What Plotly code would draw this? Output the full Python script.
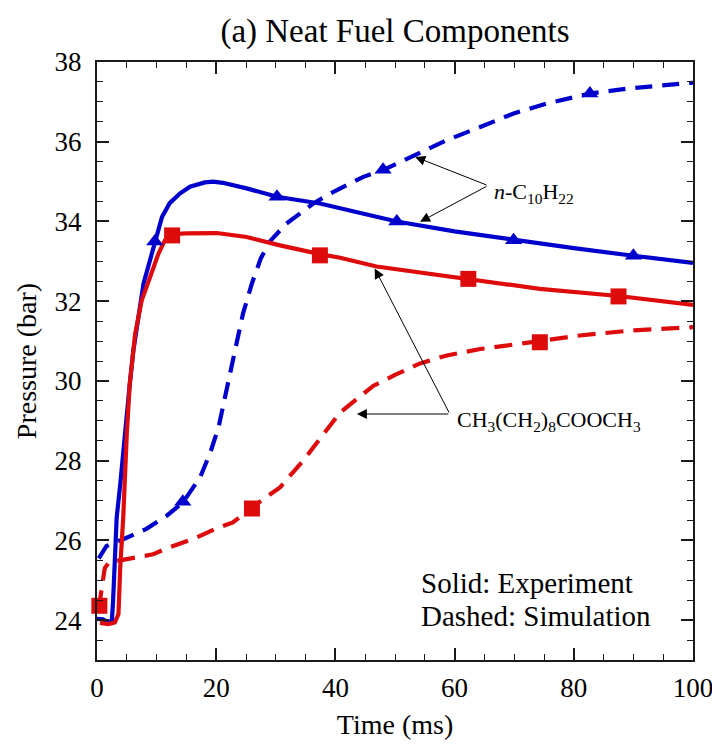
import plotly.graph_objects as go

# ---- Pressure traces, time in ms, pressure in bar ----
# n-decane, experiment
exp_dec_t = [0, 1.0, 1.9, 2.5, 2.7, 3.0, 3.3, 3.9, 4.4, 5.0, 5.5, 6.1, 6.9, 7.8, 8.9, 9.7,
             10.9, 12.2, 13.9, 15.6, 18.1, 19.5, 21.1, 25.1, 30.2, 37.4, 40.8, 50.3, 60.0,
             69.9, 80.0, 90.0, 100.0]
exp_dec_p = [24.03, 24.02, 23.94, 24.0, 24.48, 25.32, 26.57, 27.4, 28.25, 29.1, 29.93, 30.76,
             31.6, 32.44, 33.03, 33.5, 34.11, 34.46, 34.7, 34.87, 34.98, 35.0, 34.97, 34.83,
             34.62, 34.45, 34.33, 34.0, 33.75, 33.53, 33.33, 33.14, 32.96]

# methyl decanoate, experiment
exp_md_t = [0.5, 1.9, 3.0, 3.6, 3.9, 4.4, 5.0, 5.5, 6.4, 7.5, 8.9, 10.3, 11.4, 12.5, 15.0,
            20.1, 25.1, 30.7, 37.4, 40.8, 46.9, 55.0, 62.3, 74.3, 87.5, 100.0]
exp_md_p = [23.93, 23.9, 23.94, 24.15, 25.32, 26.57, 28.67, 29.93, 31.18, 32.02, 32.6, 33.19,
            33.53, 33.68, 33.7, 33.71, 33.61, 33.4, 33.18, 33.09, 32.87, 32.7, 32.56, 32.31,
            32.13, 31.91]

# n-decane, simulation
sim_dec_t = [0.3, 1.6, 4.4, 8.3, 11.7, 14.4, 17.3, 19.0, 20.4, 21.8, 23.15, 24.5, 26.0, 27.5,
             29.0, 31.8, 36.3, 39.1, 44.7, 48.0, 53.1, 58.7, 64.3, 69.9, 75.5, 82.7, 89.4, 100.0]
sim_dec_p = [25.55, 25.86, 26.03, 26.29, 26.62, 26.95, 27.58, 28.2, 28.84, 29.76, 30.76, 31.69,
             32.45, 33.08, 33.5, 33.95, 34.45, 34.7, 35.12, 35.29, 35.66, 36.04, 36.37, 36.71,
             36.96, 37.21, 37.34, 37.48]

# methyl decanoate, simulation
sim_md_t = [0.3, 0.8, 1.3, 2.0, 4.0, 7.0, 9.4, 11.7, 13.9, 16.7, 20.0, 22.8, 26.0, 28.0, 30.7,
            34.6, 38.0, 40.8, 43.2, 46.4, 50.0, 54.2, 58.7, 64.3, 74.3, 81.0, 90.0, 100.0]
sim_md_p = [24.3, 24.9, 25.3, 25.45, 25.5, 25.58, 25.65, 25.8, 25.92, 26.07, 26.3, 26.45, 26.83,
            27.05, 27.33, 28.0, 28.67, 29.21, 29.5, 29.88, 30.15, 30.44, 30.64, 30.8, 31.0,
            31.14, 31.27, 31.35]

# symbol positions along each trace
exp_dec_mk_t = [9.7, 30.2, 50.3, 69.9, 90.0]
exp_dec_mk_p = [33.5, 34.62, 34.0, 33.53, 33.14]
exp_md_mk_t = [12.6, 37.4, 62.3, 87.5]
exp_md_mk_p = [33.65, 33.15, 32.56, 32.12]
sim_dec_mk_t = [14.4, 48.0, 82.7]
sim_dec_mk_p = [26.97, 35.3, 37.21]
sim_md_mk_t = [0.4, 26.0, 74.3]
sim_md_mk_p = [24.36, 26.8, 30.97]

x_ticks = [0, 20, 40, 60, 80, 100]
y_ticks = [24, 26, 28, 30, 32, 34, 36, 38]

BLUE = "#0000cc"
RED = "#dd0b0b"
FONT = "Liberation Serif, Times New Roman, serif"
LW = 4.2

fig = go.Figure()

fig.add_trace(go.Scatter(x=sim_dec_t, y=sim_dec_p, mode="lines",
                         line=dict(color=BLUE, width=LW, dash="17px,10px")))
fig.add_trace(go.Scatter(x=sim_md_t, y=sim_md_p, mode="lines",
                         line=dict(color=RED, width=LW, dash="18px,10px")))
fig.add_trace(go.Scatter(x=exp_dec_t, y=exp_dec_p, mode="lines",
                         line=dict(color=BLUE, width=LW)))
fig.add_trace(go.Scatter(x=exp_md_t, y=exp_md_p, mode="lines",
                         line=dict(color=RED, width=LW)))

for t, p, col, sym, sz in [
    (exp_dec_mk_t, exp_dec_mk_p, BLUE, "triangle-up", 15),
    (sim_dec_mk_t, sim_dec_mk_p, BLUE, "triangle-up", 15),
    (exp_md_mk_t, exp_md_mk_p, RED, "square", 16),
    (sim_md_mk_t, sim_md_mk_p, RED, "square", 16),
]:
    fig.add_trace(go.Scatter(x=t, y=p, mode="markers", cliponaxis=False,
                             marker=dict(color=col, symbol=sym, size=sz, line=dict(width=0))))

# labels with pointer arrows
def pointer(x_tip, y_tip, x_tail, y_tail):
    fig.add_annotation(x=x_tip, y=y_tip, ax=x_tail, ay=y_tail, axref="x", ayref="y",
                       text="", showarrow=True, arrowhead=2, arrowsize=2.0,
                       arrowwidth=1, arrowcolor="black", standoff=0, startstandoff=0)

pointer(53.4, 35.62, 65.6, 34.9)
pointer(54.2, 33.99, 65.6, 34.9)
pointer(46.6, 32.82, 59.2, 29.17)
pointer(43.6, 29.17, 59.2, 29.17)

fig.add_annotation(x=66.3, y=34.71, xanchor="left", yanchor="middle", showarrow=False,
                   text="<i>n</i>-C<sub>10</sub>H<sub>22</sub>",
                   font=dict(family=FONT, size=22, color="black"))
fig.add_annotation(x=60.0, y=29.0, xanchor="left", yanchor="middle", showarrow=False,
                   text="CH<sub>3</sub>(CH<sub>2</sub>)<sub>8</sub>COOCH<sub>3</sub>",
                   font=dict(family=FONT, size=22, color="black"))
fig.add_annotation(x=0.54, y=24.93, xref="paper", xanchor="left", yanchor="middle",
                   showarrow=False, text="Solid: Experiment",
                   font=dict(family=FONT, size=29, color="black"))
fig.add_annotation(x=0.54, y=24.1, xref="paper", xanchor="left", yanchor="middle",
                   showarrow=False, text="Dashed: Simulation",
                   font=dict(family=FONT, size=29, color="black"))

axis_common = dict(
    showline=True, linewidth=2, linecolor="#1a1a1a", mirror="allticks",
    ticks="inside", ticklen=12, tickwidth=1.5, tickcolor="#1a1a1a",
    showgrid=False, zeroline=False, ticklabeloverflow="allow", automargin=False,
    tickfont=dict(family=FONT, size=27, color="black"),
)

fig.update_xaxes(range=[0, 100], tickvals=x_ticks, ticklabelstandoff=3,
                 minor=dict(dtick=5, ticks="inside", ticklen=6, tickwidth=1.2,
                            tickcolor="#1a1a1a", showgrid=False),
                 title=dict(text="Time (ms)", font=dict(family=FONT, size=28, color="black"),
                            standoff=12),
                 **axis_common)
fig.update_yaxes(range=[23, 38], tickvals=y_ticks, ticklabelstandoff=8,
                 minor=dict(dtick=0.5, ticks="inside", ticklen=6, tickwidth=1.2,
                            tickcolor="#1a1a1a", showgrid=False),
                 title=dict(text="Pressure (bar)", font=dict(family=FONT, size=28, color="black"),
                            standoff=10),
                 **axis_common)

fig.update_layout(
    width=712, height=745,
    margin=dict(l=97, r=19, t=62, b=85),
    paper_bgcolor="white", plot_bgcolor="white",
    showlegend=False,
    title=dict(text="(a) Neat Fuel Components", x=0.5, xref="paper", xanchor="center",
               y=1 - 30 / 745, yref="container", yanchor="middle",
               font=dict(family=FONT, size=33, color="black")),
)

fig.write_html("out.html")
